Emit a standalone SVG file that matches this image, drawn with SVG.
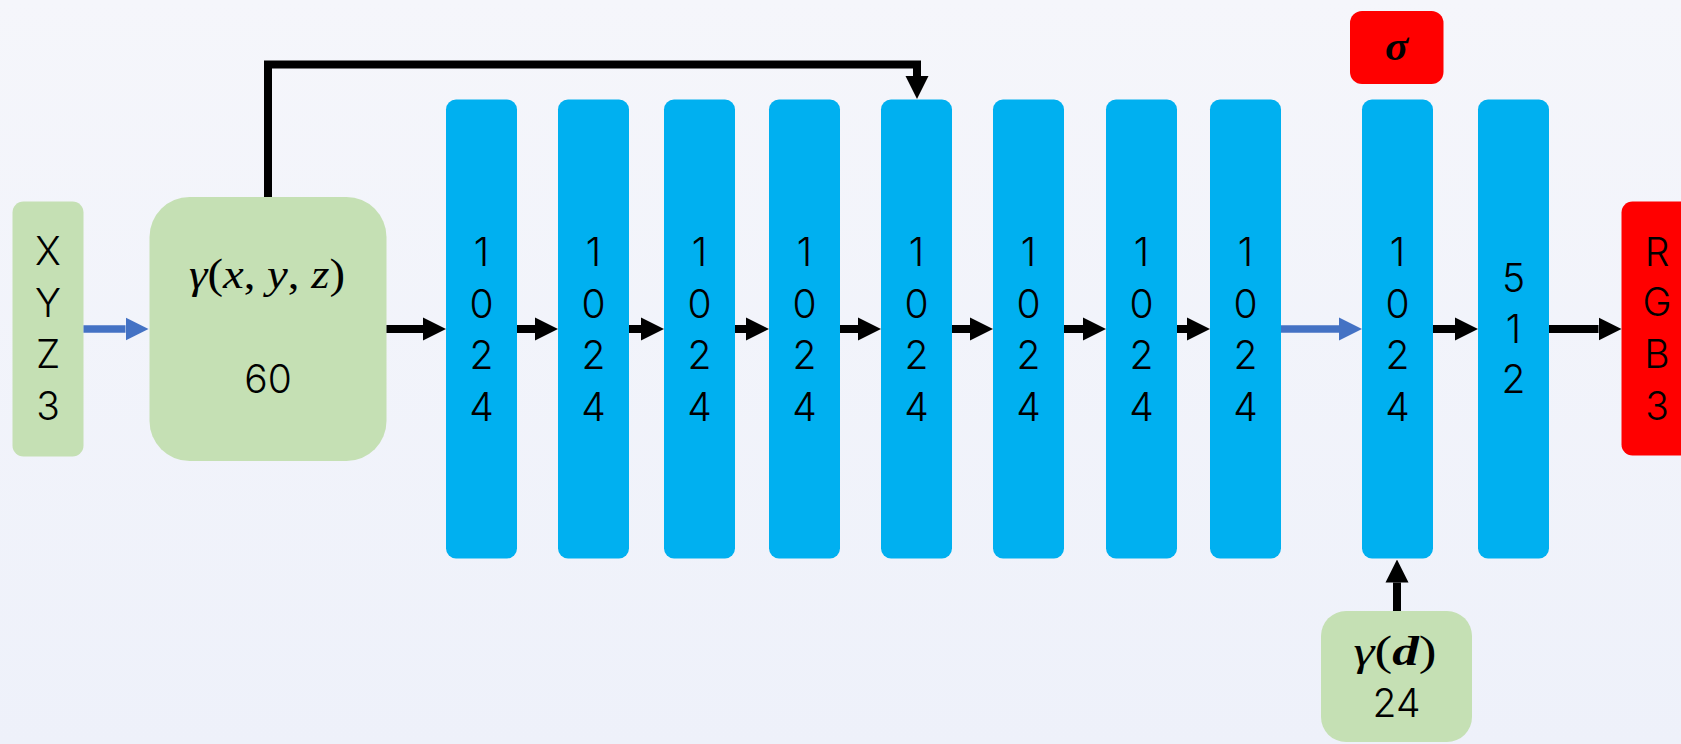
<svg xmlns="http://www.w3.org/2000/svg" width="1681" height="744" viewBox="0 0 1681 744">
  <defs>
    <linearGradient id="bg" x1="0" y1="0" x2="0" y2="1">
      <stop offset="0" stop-color="#F5F6FB"/>
      <stop offset="1" stop-color="#EEF1FA"/>
    </linearGradient>
    <marker id="headK" markerUnits="userSpaceOnUse" markerWidth="23" markerHeight="24" refX="0" refY="12" orient="auto">
      <path d="M0,0.5 L23,12 L0,23.5 z" fill="#000"/>
    </marker>
    <marker id="headB" markerUnits="userSpaceOnUse" markerWidth="23" markerHeight="24" refX="0" refY="12" orient="auto">
      <path d="M0,0.5 L23,12 L0,23.5 z" fill="#4472C4"/>
    </marker>
  </defs>
  <style>
    .layer { fill: #00B0F0; }
    .green { fill: #C5E0B4; }
    .red { fill: #FF0000; }
    .lbl { font-family: Inter, "Noto Sans", "Liberation Sans", sans-serif; font-weight: 300; font-size: 39px; fill: #000; text-anchor: middle; }
    .math { font-family: "Liberation Serif", "DejaVu Serif", serif; font-size: 43px; fill: #000; text-anchor: middle; }
    .it { font-style: italic; }
    .bi { font-style: italic; font-weight: bold; }
    .k { fill: none; stroke: #000; stroke-width: 8; marker-end: url(#headK); }
    .b { fill: none; stroke: #4472C4; stroke-width: 7.5; marker-end: url(#headB); }
  </style>

  <rect x="0" y="0" width="1681" height="744" fill="url(#bg)"/>

  <!-- input coordinates -->
  <g id="xyz">
    <rect class="green" x="12.5" y="201.5" width="71" height="255" rx="11"/>
    <text class="lbl"><tspan x="48" y="265">X</tspan><tspan x="48" y="316.5">Y</tspan><tspan x="48" y="368">Z</tspan><tspan x="48" y="419.5">3</tspan></text>
  </g>

  <!-- positional encoding of position -->
  <g id="enc-xyz">
    <rect class="green" x="149.5" y="197" width="237" height="264" rx="40"/>
    <text class="math" x="267" y="288" textLength="156" lengthAdjust="spacingAndGlyphs"><tspan class="it">γ</tspan>(<tspan class="it">x</tspan>, <tspan class="it">y</tspan>, <tspan class="it">z</tspan>)</text>
    <text class="lbl" x="268" y="393">60</text>
  </g>

  <!-- fully connected layers -->
  <g id="fc1"><rect class="layer" x="446" y="99.5" width="71" height="459" rx="10"/>
    <text class="lbl"><tspan x="481.5" y="266">1</tspan><tspan x="481.5" y="317.5">0</tspan><tspan x="481.5" y="369">2</tspan><tspan x="481.5" y="420.5">4</tspan></text></g>
  <g id="fc2"><rect class="layer" x="558" y="99.5" width="71" height="459" rx="10"/>
    <text class="lbl"><tspan x="593.5" y="266">1</tspan><tspan x="593.5" y="317.5">0</tspan><tspan x="593.5" y="369">2</tspan><tspan x="593.5" y="420.5">4</tspan></text></g>
  <g id="fc3"><rect class="layer" x="664" y="99.5" width="71" height="459" rx="10"/>
    <text class="lbl"><tspan x="699.5" y="266">1</tspan><tspan x="699.5" y="317.5">0</tspan><tspan x="699.5" y="369">2</tspan><tspan x="699.5" y="420.5">4</tspan></text></g>
  <g id="fc4"><rect class="layer" x="769" y="99.5" width="71" height="459" rx="10"/>
    <text class="lbl"><tspan x="804.5" y="266">1</tspan><tspan x="804.5" y="317.5">0</tspan><tspan x="804.5" y="369">2</tspan><tspan x="804.5" y="420.5">4</tspan></text></g>
  <g id="fc5"><rect class="layer" x="881" y="99.5" width="71" height="459" rx="10"/>
    <text class="lbl"><tspan x="916.5" y="266">1</tspan><tspan x="916.5" y="317.5">0</tspan><tspan x="916.5" y="369">2</tspan><tspan x="916.5" y="420.5">4</tspan></text></g>
  <g id="fc6"><rect class="layer" x="993" y="99.5" width="71" height="459" rx="10"/>
    <text class="lbl"><tspan x="1028.5" y="266">1</tspan><tspan x="1028.5" y="317.5">0</tspan><tspan x="1028.5" y="369">2</tspan><tspan x="1028.5" y="420.5">4</tspan></text></g>
  <g id="fc7"><rect class="layer" x="1106" y="99.5" width="71" height="459" rx="10"/>
    <text class="lbl"><tspan x="1141.5" y="266">1</tspan><tspan x="1141.5" y="317.5">0</tspan><tspan x="1141.5" y="369">2</tspan><tspan x="1141.5" y="420.5">4</tspan></text></g>
  <g id="fc8"><rect class="layer" x="1210" y="99.5" width="71" height="459" rx="10"/>
    <text class="lbl"><tspan x="1245.5" y="266">1</tspan><tspan x="1245.5" y="317.5">0</tspan><tspan x="1245.5" y="369">2</tspan><tspan x="1245.5" y="420.5">4</tspan></text></g>
  <g id="fc9"><rect class="layer" x="1362" y="99.5" width="71" height="459" rx="10"/>
    <text class="lbl"><tspan x="1397.5" y="266">1</tspan><tspan x="1397.5" y="317.5">0</tspan><tspan x="1397.5" y="369">2</tspan><tspan x="1397.5" y="420.5">4</tspan></text></g>
  <g id="fc10"><rect class="layer" x="1478" y="99.5" width="71" height="459" rx="10"/>
    <text class="lbl"><tspan x="1513.5" y="292">5</tspan><tspan x="1513.5" y="342.5">1</tspan><tspan x="1513.5" y="393">2</tspan></text></g>

  <!-- density output -->
  <g id="sigma">
    <rect class="red" x="1350" y="11" width="93.5" height="73" rx="12"/>
    <text class="math bi" x="1396.5" y="60" font-size="46">σ</text>
  </g>

  <!-- colour output -->
  <g id="rgb">
    <rect class="red" x="1621.5" y="201.5" width="80" height="254" rx="11"/>
    <text class="lbl"><tspan x="1657" y="265.5">R</tspan><tspan x="1657" y="316">G</tspan><tspan x="1657" y="367.5">B</tspan><tspan x="1657" y="419.5">3</tspan></text>
  </g>

  <!-- positional encoding of view direction -->
  <g id="enc-dir">
    <rect class="green" x="1321" y="611" width="151" height="131" rx="25"/>
    <text class="math" x="1395" y="665" textLength="83" lengthAdjust="spacingAndGlyphs"><tspan class="it">γ</tspan>(<tspan class="bi">d</tspan>)</text>
    <text class="lbl" x="1396.5" y="716.5">24</text>
  </g>

  <!-- connectors -->
  <g id="edges">
    <path class="b" d="M83.5,329 H125.5"/>
    <path class="k" d="M386.5,329 H423"/>
    <path class="k" d="M517,329 H535"/>
    <path class="k" d="M629,329 H641"/>
    <path class="k" d="M735,329 H746"/>
    <path class="k" d="M840,329 H858"/>
    <path class="k" d="M952,329 H970"/>
    <path class="k" d="M1064,329 H1083"/>
    <path class="k" d="M1177,329 H1187"/>
    <path class="b" d="M1281,329 H1339"/>
    <path class="k" d="M1433,329 H1455"/>
    <path class="k" d="M1549,329 H1598.5"/>
    <path class="k" d="M268,197 V64.5 H917 V76" stroke-linejoin="miter"/>
    <path class="k" d="M1397,611 V582.5"/>
  </g>
</svg>
